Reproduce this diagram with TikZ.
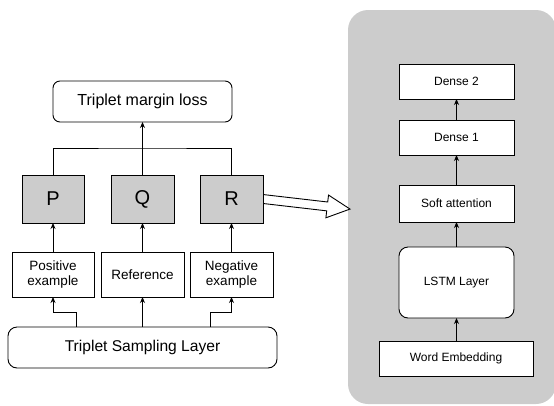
\documentclass[tikz,border=0pt]{standalone}
\usepackage{fontspec}
\setmainfont{Liberation Sans}
\usetikzlibrary{arrows.meta,shapes.arrows,calc}
\definecolor{panelgray}{HTML}{CCCCCC}
\definecolor{boxgray}{HTML}{CCCCCC}
\begin{document}
\begin{tikzpicture}[x=1pt,y=-1pt,
  every node/.style={inner sep=0pt, outer sep=0pt},
  box/.style={draw=black, line width=0.9pt, fill=white, align=center},
  rbox/.style={box, rounded corners=7pt},
  gbox/.style={draw=black, line width=0.9pt, fill=boxgray, minimum width=63pt, minimum height=48pt, font=\fontsize{20}{22}\selectfont},
  ex/.style={box, minimum width=83pt, minimum height=45pt, font=\fontsize{13.5}{15.5}\selectfont},
  rb/.style={box, minimum width=115pt, minimum height=35pt, font=\fontsize{12}{14}\selectfont},
  conn/.style={line width=0.9pt, draw=black},
  arr/.style={conn, -{Stealth[length=6pt,width=5pt]}},
]
\useasboundingbox (0,0) rectangle (554,405);
% right panel
\fill[panelgray, rounded corners=20pt] (348,10) rectangle (556,404);

% hollow arrow (drawn before R so R covers tail)
\node[single arrow, draw=black, line width=0.9pt, fill=white, inner sep=4pt,
      minimum height=87.6pt, single arrow head extend=7pt, single arrow tip angle=53,
      single arrow head indent=0pt, anchor=tail, rotate=-6.6] (big) at (263,199) {};

% left part
\node[rbox, minimum width=179pt, minimum height=41pt, font=\fontsize{16}{18}\selectfont] (loss) at (142.5,101.5) {Triplet margin loss};
\node[gbox, minimum width=62pt] (P) at (53,199) {P};
\node[gbox] (Q) at (142.5,199) {Q};
\node[gbox] (R) at (231.5,199) {R};
\node[ex, minimum width=82pt] (pos) at (53,274.5) {Positive\\example};
\node[ex] (ref) at (142.5,274.5) {Reference};
\node[ex] (neg) at (231.5,274.5) {Negative\\example};
\node[rbox, minimum width=269pt, minimum height=41pt, rounded corners=9pt, font=\fontsize{15.6}{18}\selectfont] (samp) at (142.5,347.5) {Triplet Sampling Layer};

\coordinate (bus) at (142.5,148);
\draw[conn] (P.north) |- (bus) -| (R.north);
\draw[arr] (Q.north) -- (loss.south);
\draw[arr] (pos.north) -- (P.south);
\draw[arr] (ref.north) -- (Q.south);
\draw[arr] (neg.north) -- (R.south);
\coordinate (s1) at ([xshift=-66.5pt]samp.north);
\coordinate (s3) at ([xshift=67.5pt]samp.north);
\draw[arr] (s1) -- ++(0,-15) -| (pos.south);
\draw[arr] (samp.north) -- (ref.south);
\draw[arr] (s3) -- ++(0,-15) -| (neg.south);

% right part
\node[rb] (d2) at (456.5,81.5) {Dense 2};
\node[rb] (d1) at (456.5,137.5) {Dense 1};
\node[rb, minimum height=37pt] (soft) at (456.5,203.5) {Soft attention};
\node[rb, rounded corners=9pt, minimum height=71pt] (lstm) at (456.5,282.5) {LSTM Layer};
\node[rb, minimum width=154pt] (we) at (456,358.5) {Word Embedding};
\draw[arr] (d1) -- (d2);
\draw[arr] (soft) -- (d1);
\draw[arr] (lstm) -- (soft);
\draw[arr] (we.north -| lstm.south) -- (lstm.south);
\end{tikzpicture}
\end{document}
